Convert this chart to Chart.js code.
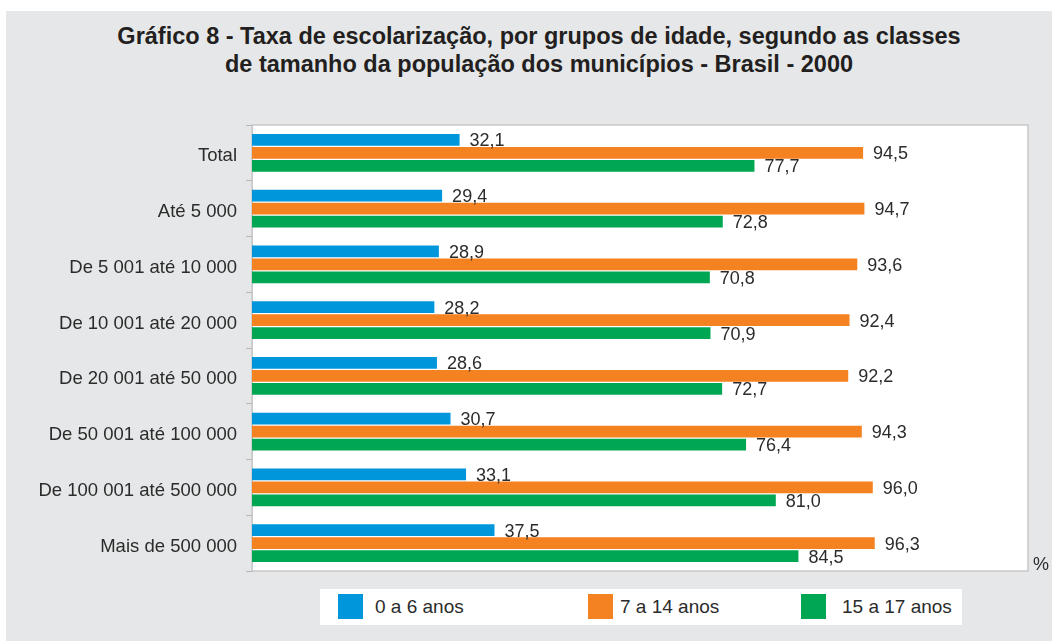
<!DOCTYPE html>
<html lang="pt-BR">

<head>
  <meta charset="UTF-8" />
  <script src="https://cdn.jsdelivr.net/npm/chart.js"></script>
  <title>Gráfico 8 - Taxa de escolarização</title>
  <style>
    body {
      margin: 0;
      background: #fff;
      font-family: "Liberation Sans", Arial, sans-serif;
      color: #2b2b2b;
    }

    .fundo {
      position: absolute;
      left: 6px;
      top: 11px;
      width: 1046px;
      height: 630px;
      background: #e6e7e8;
    }

    .titulo {
      position: absolute;
      left: 539px;
      top: 22px;
      transform: translateX(-50%);
      white-space: nowrap;
      text-align: center;
      font-weight: bold;
      font-size: 23.5px;
      line-height: 28px;
      color: #231f20;
    }

    #grafico {
      position: absolute;
      left: 0;
      top: 0;
    }

    .legenda {
      position: absolute;
      left: 320px;
      top: 589px;
      width: 642px;
      height: 36px;
      background: #fff;
    }

    .legenda .cor {
      position: absolute;
      top: 5px;
      width: 25px;
      height: 25px;
    }

    .legenda .txt {
      position: absolute;
      top: 0;
      line-height: 36px;
      font-size: 19px;
      white-space: nowrap;
    }

    .pct {
      position: absolute;
      left: 1033px;
      top: 554px;
      font-size: 18px;
    }
  </style>
</head>

<body>
  <div class="fundo"></div>
  <div class="titulo">
    Gráfico 8 - Taxa de escolarização, por grupos de idade, segundo as classes<br>
    de tamanho da população dos municípios - Brasil - 2000
  </div>
  <canvas id="grafico" width="1052" height="641"></canvas>
  <span class="pct">%</span>
  <div class="legenda">
    <div class="cor" style="left:18px;background:#0096dc"></div>
    <span class="txt" style="left:55px">0 a 6 anos</span>
    <div class="cor" style="left:268px;background:#f58220"></div>
    <span class="txt" style="left:300px">7 a 14 anos</span>
    <div class="cor" style="left:481px;background:#00a651"></div>
    <span class="txt" style="left:522px">15 a 17 anos</span>
  </div>

  <script>
    // dados
    const classes = ['Total', 'Até 5 000', 'De 5 001 até 10 000', 'De 10 001 até 20 000',
      'De 20 001 até 50 000', 'De 50 001 até 100 000', 'De 100 001 até 500 000', 'Mais de 500 000'];
    const idade0a6 = [32.1, 29.4, 28.9, 28.2, 28.6, 30.7, 33.1, 37.5];
    const idade7a14 = [94.5, 94.7, 93.6, 92.4, 92.2, 94.3, 96.0, 96.3];
    const idade15a17 = [77.7, 72.8, 70.8, 70.9, 72.7, 76.4, 81.0, 84.5];

    const fonte = '"Liberation Sans", Arial, sans-serif';

    // fundo branco e borda da area do grafico
    const areaBranca = {
      id: 'areaBranca',
      beforeDraw(chart) {
        const { ctx, chartArea: a } = chart;
        ctx.save();
        ctx.fillStyle = '#fff';
        ctx.fillRect(a.left, a.top, a.right - a.left, a.bottom - a.top);
        ctx.strokeStyle = '#c9c9c9';
        ctx.lineWidth = 1.5;
        ctx.strokeRect(a.left, a.top, a.right - a.left, a.bottom - a.top);
        ctx.restore();
      }
    };

    // rotulos de valor ao lado das barras
    const rotulos = {
      id: 'rotulos',
      afterDatasetsDraw(chart) {
        const ctx = chart.ctx;
        ctx.save();
        ctx.font = '18px ' + fonte;
        ctx.fillStyle = '#2b2b2b';
        ctx.textBaseline = 'middle';
        chart.data.datasets.forEach((ds, i) => {
          chart.getDatasetMeta(i).data.forEach((barra, j) => {
            const texto = ds.data[j].toFixed(1).replace('.', ',');
            ctx.fillText(texto, barra.x + 10, barra.y + 1.5);
          });
        });
        ctx.restore();
      }
    };

    new Chart(document.getElementById('grafico'), {
      type: 'bar',
      data: {
        labels: classes,
        datasets: [
          { label: '0 a 6 anos', data: idade0a6, backgroundColor: '#0096dc' },
          { label: '7 a 14 anos', data: idade7a14, backgroundColor: '#f58220' },
          { label: '15 a 17 anos', data: idade15a17, backgroundColor: '#00a651' }
        ]
      },
      options: {
        responsive: false,
        animation: false,
        indexAxis: 'y',
        datasets: {
          bar: { barPercentage: 0.92, categoryPercentage: 0.7 }
        },
        layout: { padding: { top: 125, bottom: 70, right: 24, left: 0 } },
        plugins: {
          legend: { display: false },
          tooltip: { enabled: false }
        },
        scales: {
          x: { display: false, min: 0, max: 120 },
          y: {
            afterFit(escala) { escala.width = 252; },
            grid: { drawOnChartArea: false, drawTicks: true, tickLength: 6, color: '#b5b5b5' },
            border: { color: '#c9c9c9' },
            ticks: { color: '#2b2b2b', font: { family: fonte, size: 18.5 }, padding: 9, labelOffset: 3.5 }
          }
        }
      },
      plugins: [areaBranca, rotulos]
    });
  </script>
</body>

</html>
